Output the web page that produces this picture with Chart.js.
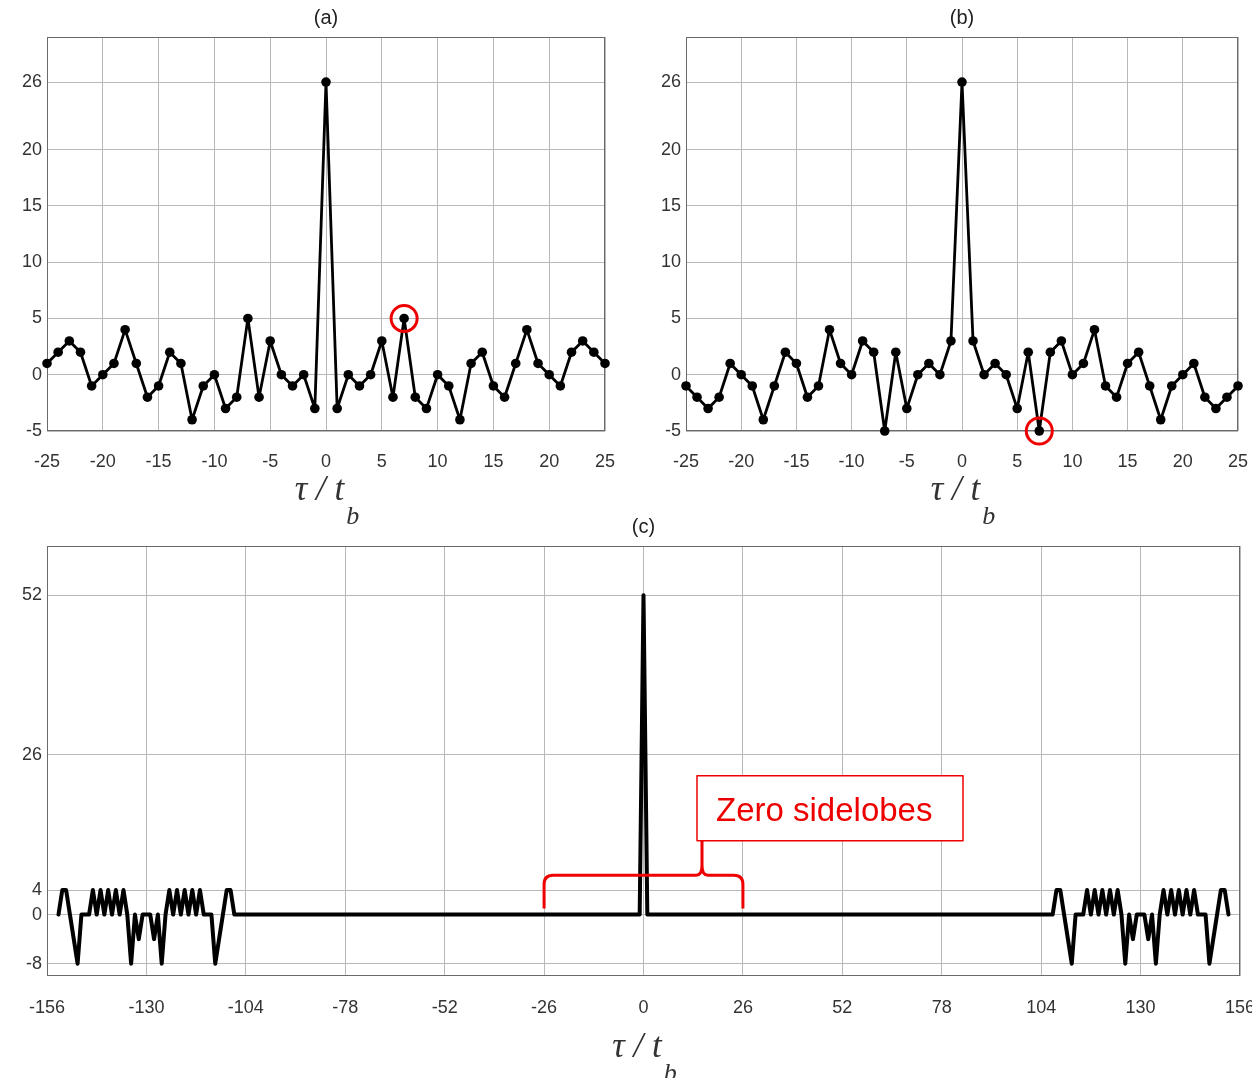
<!DOCTYPE html>
<html>
<head>
    <title>Complementary code correlation</title>
    <script src="https://cdn.jsdelivr.net/npm/chart.js"></script>
    <style>
        body {
            margin: 0;
            background: #fff;
            width: 1252px;
            height: 1078px;
            overflow: hidden;
            position: relative;
        }
        canvas {
            position: absolute;
        }
    </style>
</head>
<body>
    <canvas id="chartA" width="640" height="540" style="left:0;top:0"></canvas>
    <canvas id="chartB" width="660" height="540" style="left:626px;top:0"></canvas>
    <canvas id="chartC" width="1290" height="568" style="left:0;top:510px"></canvas>

    <script>
        // lags for the two short codes, -25 .. 25
        const lagsAB = [];
        for (let t = -25; t <= 25; t++) lagsAB.push(t);

        // (a) autocorrelation of code a
        const corrA = [1, 2, 3, 2, -1, 0, 1, 4, 1, -2, -1, 2, 1, -4, -1, 0, -3, -2, 5, -2, 3, 0, -1, 0, -3,
                       26,
                       -3, 0, -1, 0, 3, -2, 5, -2, -3, 0, -1, -4, 1, 2, -1, -2, 1, 4, 1, 0, -1, 2, 3, 2, 1];
        // (b) autocorrelation of code b
        const corrB = [-1, -2, -3, -2, 1, 0, -1, -4, -1, 2, 1, -2, -1, 4, 1, 0, 3, 2, -5, 2, -3, 0, 1, 0, 3,
                       26,
                       3, 0, 1, 0, -3, 2, -5, 2, 3, 0, 1, 4, -1, -2, 1, 2, -1, -4, -1, 0, 1, -2, -3, -2, -1];

        // (c) sum: sidelobe clusters at both ends, zero in between
        const sideLagsL = [];
        for (let t = -153; t <= -107; t++) sideLagsL.push(t);
        const sideValsL = [0, 4, 4, 0, -4, -8, 0, 0, 0, 4, 0, 4, 0, 4, 0, 4, 0, 4, 0, -8,
                           0, -4, 0, 0, 0, -4, 0, -8, 0, 4, 0, 4, 0, 4, 0, 4, 0, 4, 0, 0,
                           0, -8, -4, 0, 4, 4, 0];
        const mainLags = [-1, 0, 1];
        const mainVals = [0, 52, 0];
        const sideLagsR = [];
        for (let t = 107; t <= 153; t++) sideLagsR.push(t);
        const sideValsR = [0, 4, 4, 0, -4, -8, 0, 0, 0, 4, 0, 4, 0, 4, 0, 4, 0, 4, 0, -8,
                           0, -4, 0, 0, 0, -4, 0, -8, 0, 4, 0, 4, 0, 4, 0, 4, 0, 4, 0, 0,
                           0, -8, -4, 0, 4, 4, 0];

        const yTicksAB = [-5, 0, 5, 10, 15, 20, 26];
        const yTicksC = [-8, 0, 4, 26, 52];
        const markedLag = 7;           // the circled sample in (a) and (b)
        const zeroSpan = [-26, 26];    // range under the red brace
        const noteText = 'Zero sidelobes';
        const xLabelMain = 'τ / t';
        const xLabelSub = 'b';

        const tickFont = { family: '"Liberation Sans", Arial, sans-serif', size: 18 };
        const gridColor = '#b8b8b8';
        const frameColor = '#6a6a6a';
        const red = '#ee0000';

        function toPoints(xs, ys) {
            return xs.map((x, i) => ({ x: x, y: ys[i] }));
        }

        function drawTau(ctx, cx, baseline) {
            const big = 'italic 35px "Liberation Serif", "DejaVu Serif", serif';
            const small = 'italic 26px "Liberation Serif", "DejaVu Serif", serif';
            ctx.save();
            ctx.fillStyle = '#333';
            ctx.textAlign = 'left';
            ctx.textBaseline = 'alphabetic';
            ctx.font = big;
            const w1 = ctx.measureText(xLabelMain).width;
            ctx.font = small;
            const w2 = ctx.measureText(xLabelSub).width;
            const x0 = cx - (w1 + w2) / 2;
            ctx.font = big;
            ctx.fillText(xLabelMain, x0, baseline);
            ctx.font = small;
            ctx.fillText(xLabelSub, x0 + w1 + 2, baseline + 24);
            ctx.restore();
        }

        const decorations = {
            id: 'decorations',
            beforeDatasetsDraw(chart) {
                const { ctx, chartArea: a } = chart;
                ctx.save();
                ctx.strokeStyle = frameColor;
                ctx.lineWidth = 1;
                ctx.strokeRect(a.left + 0.5, a.top + 0.5, a.width - 1, a.height - 1);
                ctx.restore();
            },
            afterDraw(chart, args, opts) {
                const { ctx, chartArea: a } = chart;
                const xs = chart.scales.x, ys = chart.scales.y;

                // panel title
                ctx.save();
                ctx.fillStyle = '#222';
                ctx.font = '20px "Liberation Sans", Arial, sans-serif';
                ctx.textAlign = 'center';
                ctx.textBaseline = 'middle';
                ctx.fillText(opts.title, xs.getPixelForValue(0), a.top - 19);
                ctx.restore();

                drawTau(ctx, xs.getPixelForValue(0), a.bottom + opts.labelGap);

                if (opts.circleY !== undefined) {
                    ctx.save();
                    ctx.strokeStyle = red;
                    ctx.lineWidth = 3;
                    ctx.beginPath();
                    ctx.arc(xs.getPixelForValue(markedLag), ys.getPixelForValue(opts.circleY), 13, 0, Math.PI * 2);
                    ctx.stroke();
                    ctx.restore();
                }

                if (opts.brace) {
                    const xL = xs.getPixelForValue(zeroSpan[0]);
                    const xR = xs.getPixelForValue(zeroSpan[1]);
                    const xC = xs.getPixelForValue(15.3);
                    const yLeg = ys.getPixelForValue(1);
                    const yBar = ys.getPixelForValue(6.4);
                    const yTip = ys.getPixelForValue(12);
                    const r = 9;
                    ctx.save();
                    ctx.strokeStyle = red;
                    ctx.lineWidth = 3;
                    ctx.lineJoin = 'round';
                    ctx.beginPath();
                    ctx.moveTo(xL, yLeg);
                    ctx.lineTo(xL, yBar + r);
                    ctx.quadraticCurveTo(xL, yBar, xL + r, yBar);
                    ctx.lineTo(xC - 6, yBar);
                    ctx.quadraticCurveTo(xC, yBar, xC, yBar - 10);
                    ctx.lineTo(xC, yTip);
                    ctx.moveTo(xC, yBar - 10);
                    ctx.quadraticCurveTo(xC, yBar, xC + 6, yBar);
                    ctx.lineTo(xR - r, yBar);
                    ctx.quadraticCurveTo(xR, yBar, xR, yBar + r);
                    ctx.lineTo(xR, yLeg);
                    ctx.stroke();

                    // note box
                    const bx = xC - 5, bw = 266, bh = 65, by = yTip - bh;
                    ctx.fillStyle = '#fff';
                    ctx.fillRect(bx, by, bw, bh);
                    ctx.lineWidth = 1.5;
                    ctx.strokeRect(bx, by, bw, bh);
                    ctx.fillStyle = red;
                    ctx.font = '33px "Liberation Sans", Arial, sans-serif';
                    ctx.textAlign = 'left';
                    ctx.textBaseline = 'alphabetic';
                    ctx.fillText(noteText, bx + 19, by + bh - 20);
                    ctx.restore();
                }
            }
        };

        function makeChart(id, datasets, o) {
            const ctx = document.getElementById(id).getContext('2d');
            return new Chart(ctx, {
                type: 'line',
                data: { datasets: datasets },
                plugins: [decorations],
                options: {
                    responsive: false,
                    animation: false,
                    layout: { padding: o.padding },
                    plugins: {
                        legend: { display: false },
                        tooltip: { enabled: false },
                        decorations: o.deco
                    },
                    scales: {
                        x: {
                            type: 'linear',
                            min: o.xMin,
                            max: o.xMax,
                            afterFit: (scale) => { scale.height = 40; },
                            ticks: { stepSize: o.xStep, color: '#333', font: tickFont, padding: o.xPad, maxRotation: 0, autoSkip: false },
                            grid: { color: gridColor, drawTicks: false },
                            border: { display: false }
                        },
                        y: {
                            min: o.yMin,
                            max: o.yMax,
                            afterBuildTicks: (scale) => { scale.ticks = o.yTicks.map(v => ({ value: v })); },
                            afterFit: (scale) => { scale.width = o.yWidth; },
                            ticks: { color: '#333', font: tickFont, padding: 5 },
                            grid: { color: gridColor, drawTicks: false },
                            border: { display: false }
                        }
                    }
                }
            });
        }

        const dotStyle = {
            borderColor: '#000',
            backgroundColor: '#000',
            borderWidth: 2.8,
            borderJoinStyle: 'round',
            pointRadius: 4.8,
            pointBorderWidth: 0,
            tension: 0,
            clip: false
        };

        makeChart('chartA', [Object.assign({ data: toPoints(lagsAB, corrA) }, dotStyle)], {
            padding: { left: 0, top: 37, right: 35, bottom: 69 },
            yWidth: 47, xMin: -25, xMax: 25, xStep: 5, xPad: 20,
            yMin: -5, yMax: 30, yTicks: yTicksAB,
            deco: { title: '(a)', labelGap: 69, circleY: 5 }
        });

        makeChart('chartB', [Object.assign({ data: toPoints(lagsAB, corrB) }, dotStyle)], {
            padding: { left: 0, top: 37, right: 48, bottom: 69 },
            yWidth: 60, xMin: -25, xMax: 25, xStep: 5, xPad: 20,
            yMin: -5, yMax: 30, yTicks: yTicksAB,
            deco: { title: '(b)', labelGap: 69, circleY: -5 }
        });

        const pointsC = toPoints(sideLagsL, sideValsL)
            .concat(toPoints(mainLags, mainVals))
            .concat(toPoints(sideLagsR, sideValsR));

        makeChart('chartC', [{
            data: pointsC,
            borderColor: '#000',
            borderWidth: 4,
            borderJoinStyle: 'round',
            borderCapStyle: 'round',
            pointRadius: 0,
            tension: 0
        }], {
            padding: { left: 0, top: 36, right: 50, bottom: 62 },
            yWidth: 47, xMin: -156, xMax: 156, xStep: 26, xPad: 21,
            yMin: -10, yMax: 60, yTicks: yTicksC,
            deco: { title: '(c)', labelGap: 81, brace: true }
        });
    </script>
</body>
</html>
